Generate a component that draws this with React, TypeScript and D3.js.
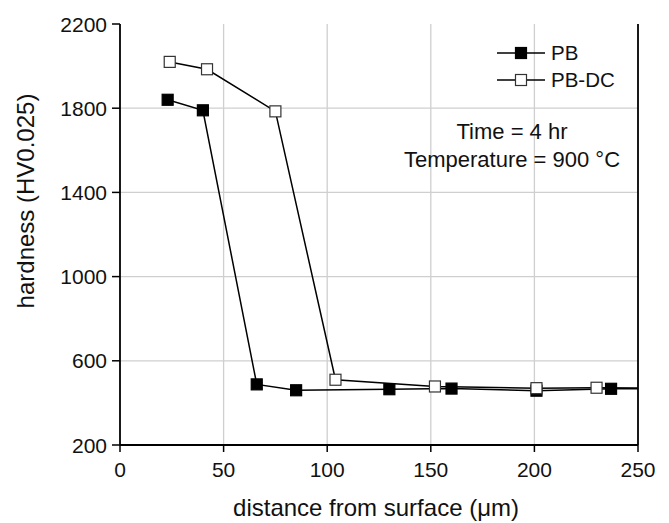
import React from "react";
import * as d3 from "d3";

const pbX = [23, 40, 66, 85, 130, 160, 201, 237, 270];
const pbY = [1840, 1790, 488, 460, 465, 468, 458, 467, 468];
const dcX = [24, 42, 75, 104, 152, 201, 230, 270];
const dcY = [2020, 1985, 1785, 510, 478, 470, 472, 470];
const xTicks = [0, 50, 100, 150, 200, 250];
const yTicks = [200, 600, 1000, 1400, 1800, 2200];
const seriesNames = ["PB", "PB-DC"];

const W = 669, H = 523;
const L = 120, R = 638, T = 24, B = 445;
const FONT = "'Liberation Sans', Arial, sans-serif";

export default function App() {
  const x = d3.scaleLinear().domain([0, 250]).range([L, R]);
  const y = d3.scaleLinear().domain([200, 2200]).range([B, T]);
  const line = d3.line<[number, number]>().x(d => x(d[0])).y(d => y(d[1]));
  const pb: [number, number][] = pbX.map((v, i) => [v, pbY[i]]);
  const dc: [number, number][] = dcX.map((v, i) => [v, dcY[i]]);
  const ms = 11;
  const marker = (p: [number, number], filled: boolean, k: string) => (
    <rect key={k} x={x(p[0]) - ms / 2} y={y(p[1]) - ms / 2} width={ms} height={ms}
      fill={filled ? "#000" : "#fff"} stroke={filled ? "#000" : "#333"} strokeWidth={1.2} />
  );
  return (
    <svg width={W} height={H} style={{ position: "absolute", left: 0, top: 0, background: "#fff" }} fontFamily={FONT}>
      <defs>
        <clipPath id="plot"><rect x={L} y={T} width={R - L} height={B - T} /></clipPath>
      </defs>
      {xTicks.slice(1, -1).map(t => (
        <line key={"gx" + t} x1={x(t)} x2={x(t)} y1={T} y2={B} stroke="#cfcfcf" strokeWidth={1.3} />
      ))}
      {yTicks.slice(1, -1).map(t => (
        <line key={"gy" + t} x1={L} x2={R} y1={y(t)} y2={y(t)} stroke="#cfcfcf" strokeWidth={1.3} />
      ))}
      <g clipPath="url(#plot)">
        <path d={line(pb) || ""} fill="none" stroke="#000" strokeWidth={1.5} />
        <path d={line(dc) || ""} fill="none" stroke="#000" strokeWidth={1.5} />
        {pb.map((p, i) => marker(p, true, "pb" + i))}
        {dc.map((p, i) => marker(p, false, "dc" + i))}
      </g>
      <line x1={L} x2={L} y1={T} y2={B} stroke="#000" strokeWidth={1.8} />
      <line x1={R} x2={R} y1={T} y2={B} stroke="#000" strokeWidth={1.8} />
      <line x1={L} x2={R} y1={B} y2={B} stroke="#000" strokeWidth={1.8} />
      {yTicks.map(t => (
        <g key={"yt" + t}>
          <line x1={L - 8} x2={L} y1={y(t)} y2={y(t)} stroke="#000" strokeWidth={1.5} />
          <text x={L - 13} y={y(t)} dy="0.36em" textAnchor="end" fontSize={21} fill="#111">{t}</text>
        </g>
      ))}
      {xTicks.map(t => (
        <g key={"xt" + t}>
          <line x1={x(t)} x2={x(t)} y1={B} y2={B + 7} stroke="#000" strokeWidth={1.5} />
          <text x={x(t)} y={B + 32} textAnchor="middle" fontSize={21} fill="#111">{t}</text>
        </g>
      ))}
      <text x={376} y={516} textAnchor="middle" fontSize={24} fill="#111">distance from surface (μm)</text>
      <text transform={`translate(34,201) rotate(-90)`} textAnchor="middle" fontSize={24} fill="#111">hardness (HV0.025)</text>
      {seriesNames.map((n, i) => {
        const ly = 53 + i * 27;
        return (
          <g key={n}>
            <line x1={497} x2={545} y1={ly} y2={ly} stroke="#000" strokeWidth={1.5} />
            <rect x={521 - 5.5} y={ly - 5.5} width={11} height={11} fill={i === 0 ? "#000" : "#fff"} stroke={i === 0 ? "#000" : "#333"} strokeWidth={1.2} />
            <text x={551} y={ly} dy="0.36em" fontSize={20.5} fill="#111">{n}</text>
          </g>
        );
      })}
      <text x={512} y={139} textAnchor="middle" fontSize={22} fill="#111">Time = 4 hr</text>
      <text x={512} y={167} textAnchor="middle" fontSize={22} fill="#111">Temperature = 900 °C</text>
    </svg>
  );
}
